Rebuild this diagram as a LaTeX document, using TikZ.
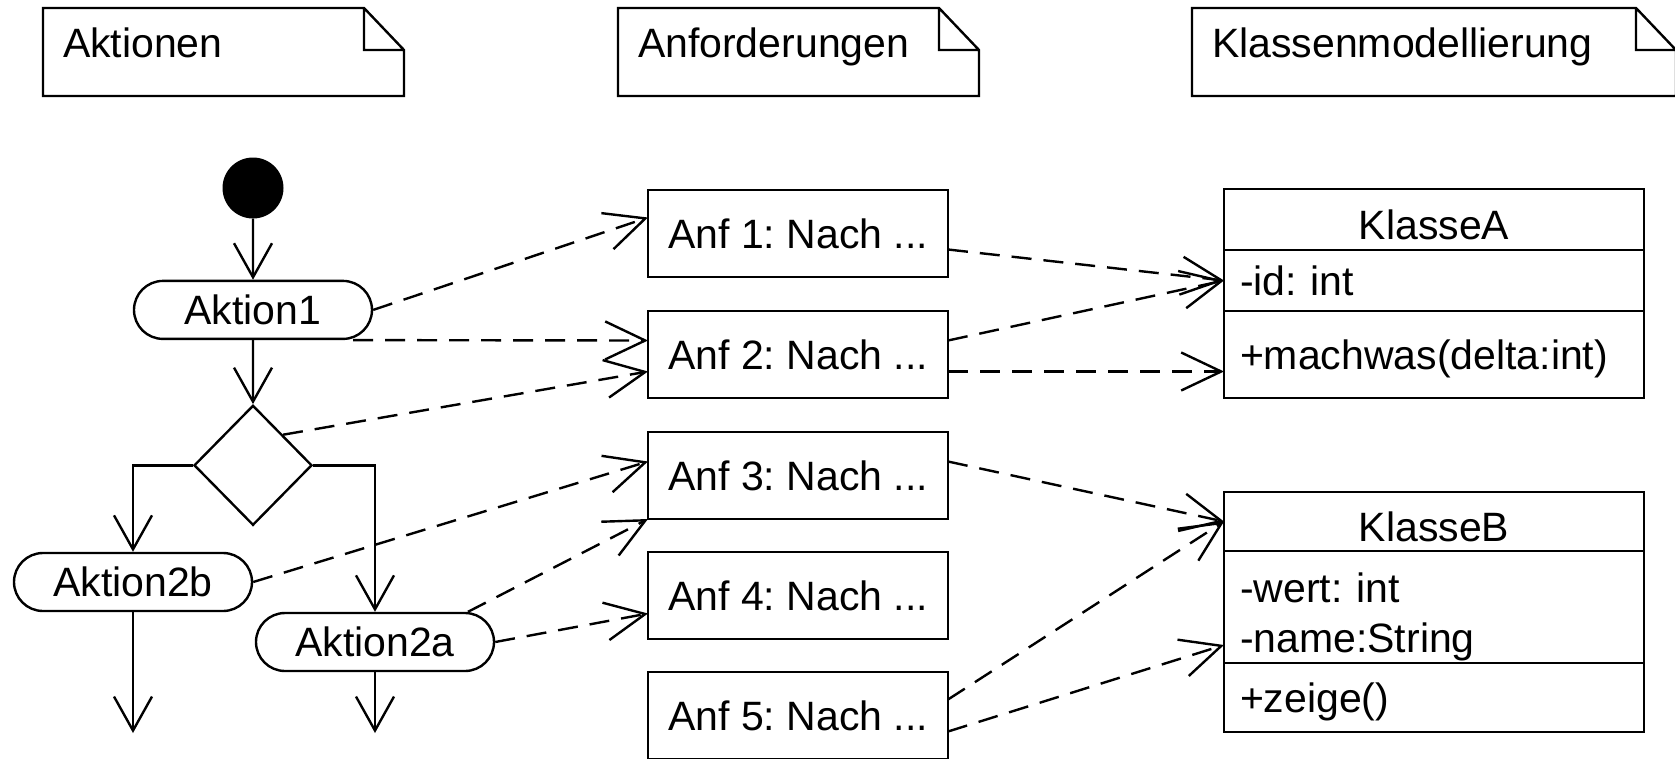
\documentclass[tikz,border=0pt]{standalone}
\usepackage{fontspec}
\setmainfont{Liberation Sans}
\frenchspacing
\usetikzlibrary{positioning,arrows.meta,shapes.geometric,shapes.misc}
\newcommand{\notefold}[1]{%
  \draw[thk] (#1.north west) -- ([xshift=-40pt]#1.north east) -- ([yshift=-42pt]#1.north east)
    -- (#1.south east) -- (#1.south west) -- cycle
    ([xshift=-40pt]#1.north east) |- ([yshift=-42pt]#1.north east);}
\tikzset{
  thk/.style={line width=2.4pt},
  txt/.style={font={\fontsize{41}{50}\selectfont}},
  note/.style={txt,anchor=north west,align=left,inner xsep=20pt,inner ysep=0pt,outer sep=0pt,text height=49pt,text depth=39pt},
  act/.style={txt,draw,thk,rounded rectangle,minimum width=238pt,minimum height=58pt,inner sep=0pt},
  anf/.style={txt,draw,thk,minimum width=300pt,minimum height=87pt,outer sep=0pt},
  cls/.style={txt,draw,thk,align=center,text width=388pt,inner xsep=16pt,inner ysep=0pt,outer sep=0pt,text height=39pt,text depth=0pt},
  cmp/.style={cls,align=left,text height=30pt},
  flow/.style={thk,-{Straight Barb[length=34pt,width=38pt]}},
  dep/.style={thk,dash pattern=on 20pt off 12pt,-{Straight Barb[length=40pt,width=38pt]}},
}
\begin{document}
\begin{tikzpicture}[x=1pt,y=-1pt]
  \useasboundingbox (0,0) rectangle (1675,758);
  % notes
  \node[note,text width=321pt] (nAkt) at (43,8) {Aktionen};
  \node[note,text width=321pt] (nAnf) at (618,8) {Anforderungen};
  \node[note,text width=444pt] (nKla) at (1192,8) {Klassenmodellierung};
  \notefold{nAkt}\notefold{nAnf}\notefold{nKla}
  % activity
  \node[circle,fill=black,minimum size=61pt,inner sep=0pt] (start) at (253,188) {};
  \node[act,below=61pt of start] (akt1) {Aktion1};
  \node[diamond,draw,thk,minimum width=118pt,minimum height=120pt,inner sep=0pt,below=64pt of akt1] (dec) {};
  \node[act] (akt2b) at (133,582) {Aktion2b};
  \node[act] (akt2a) at (375,642) {Aktion2a};
  \coordinate (end2b) at (133,733);
  \coordinate (end2a) at (375,733);
  % requirements
  \node[anf,anchor=north west] (anf1) at (648,190) {Anf 1: Nach ...};
  \node[anf,below=34pt of anf1] (anf2) {Anf 2: Nach ...};
  \node[anf,below=34pt of anf2] (anf3) {Anf 3: Nach ...};
  \node[anf,below=33pt of anf3] (anf4) {Anf 4: Nach ...};
  \node[anf,below=33pt of anf4] (anf5) {Anf 5: Nach ...};
  % classes
  \node[cls,minimum height=61pt,anchor=north west] (klA) at (1224,189) {KlasseA};
  \node[cmp,minimum height=61pt,below=0pt of klA] (klAatt) {-id: int};
  \node[cmp,minimum height=87pt,below=0pt of klAatt] (klAop) {+machwas(delta:int)};
  \node[cls,minimum height=59pt,anchor=north west] (klB) at (1224,492) {KlasseB};
  \node[cmp,minimum height=112pt,text depth=40pt,below=0pt of klB] (klBatt) {-wert: int\\-name:String};
  \node[cmp,minimum height=69pt,below=0pt of klBatt] (klBop) {+zeige()};
  % control flow
  \draw[flow] (start) -- (akt1);
  \draw[flow] (akt1) -- (dec);
  \draw[flow] (dec.west) -| (akt2b.north);
  \draw[flow] (dec.east) -| (akt2a.north);
  \draw[flow] (akt2b) -- (end2b);
  \draw[flow] (akt2a) -- (end2a);
  % traces
  \draw[dep] (akt1.east) -- ([yshift=16pt]anf1.west);
  \draw[dep] ([xshift=100pt]akt1.south) -- ([yshift=14pt]anf2.west);
  \draw[dep] (dec.north east) -- ([yshift=-17pt]anf2.west);
  \draw[dep] (akt2b.east) -- ([yshift=14pt]anf3.west);
  \draw[dep] ([xshift=93pt]akt2a.north) -- (anf3.south west);
  \draw[dep] (akt2a.east) -- ([yshift=-18pt]anf4.west);
  \draw[dep] ([yshift=-16pt]anf1.east) -- (klAatt.west);
  \draw[dep] ([yshift=14pt]anf2.east) -- (klAatt.west);
  \draw[dep] ([yshift=-17pt]anf2.east) -- ([yshift=-17pt]klAop.west);
  \draw[dep] ([yshift=14pt]anf3.east) -- (klB.west);
  \draw[dep] ([yshift=16pt]anf5.east) -- (klB.west);
  \draw[dep] ([yshift=-16pt]anf5.east) -- ([yshift=-38pt]klBatt.west);
\end{tikzpicture}
\end{document}
